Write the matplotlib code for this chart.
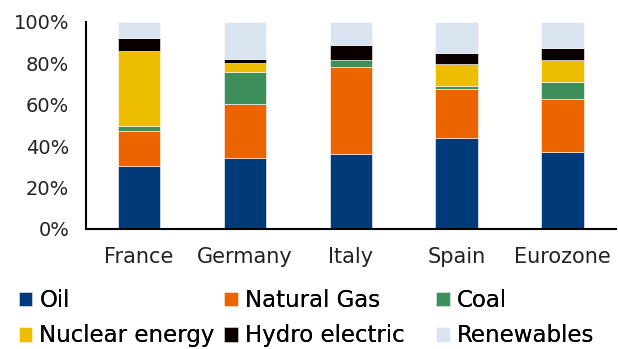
import matplotlib.pyplot as plt
import numpy as np

plt.rcParams['font.family'] = ['DejaVu Sans']

countries = ["France", "Germany", "Italy", "Spain", "Eurozone"]
oil = [30.5, 34.4, 36.2, 44.0, 37.0]
natural_gas = [16.8, 25.9, 41.8, 23.7, 25.6]
coal = [2.4, 15.4, 3.5, 1.4, 8.3]
nuclear = [36.2, 4.5, 0.0, 10.6, 10.8]
hydro = [6.2, 1.7, 7.1, 5.0, 5.5]
renewables = [7.9, 18.1, 11.4, 15.3, 12.8]

series = [("Oil", oil, "#003a78"),
          ("Natural Gas", natural_gas, "#eb6400"),
          ("Coal", coal, "#3f8f5c"),
          ("Nuclear energy", nuclear, "#edbe00"),
          ("Hydro electric", hydro, "#0a0000"),
          ("Renewables", renewables, "#dae3f0")]

fig = plt.figure(figsize=(6.18, 3.49), dpi=100)
ax = fig.add_axes([0.139, 0.344, 0.857, 0.594])

x = np.arange(len(countries))
bottom = np.zeros(len(countries))
handles = []
for name, vals, col in series:
    h = ax.bar(x, vals, 0.4, bottom=bottom, color=col, label=name,
               edgecolor='white', linewidth=0.4)
    handles.append(h)
    bottom += np.array(vals)

ax.set_xlim(-0.5, len(countries) - 0.5)
ax.set_ylim(0, 100)
ax.set_yticks(range(0, 101, 20))
ax.set_yticklabels([f"{v}%" for v in range(0, 101, 20)])
ax.set_xticks(x)
ax.set_xticklabels(countries)
ax.tick_params(length=0, labelsize=14, colors='#222222')
ax.tick_params(axis='x', pad=13, labelsize=15)
ax.tick_params(axis='y', pad=12)
for s in ['top', 'right']:
    ax.spines[s].set_visible(False)
ax.spines['left'].set_linewidth(1.5)
ax.spines['bottom'].set_linewidth(1.5)

# legend laid out in three fixed columns, row-major like the original
col_x = [0.008, 0.341, 0.683]
for c in range(3):
    idx = [c, c + 3]
    leg = fig.legend([handles[i] for i in idx], [series[i][0] for i in idx],
                     loc='lower left', bbox_to_anchor=(col_x[c], -0.035), ncol=1,
                     frameon=False, fontsize=16.5, handlelength=0.6, handleheight=0.6,
                     handletextpad=0.3, labelspacing=0.55, borderaxespad=0.2)
    fig.add_artist(leg)

fig.savefig("out.png", dpi=100)
